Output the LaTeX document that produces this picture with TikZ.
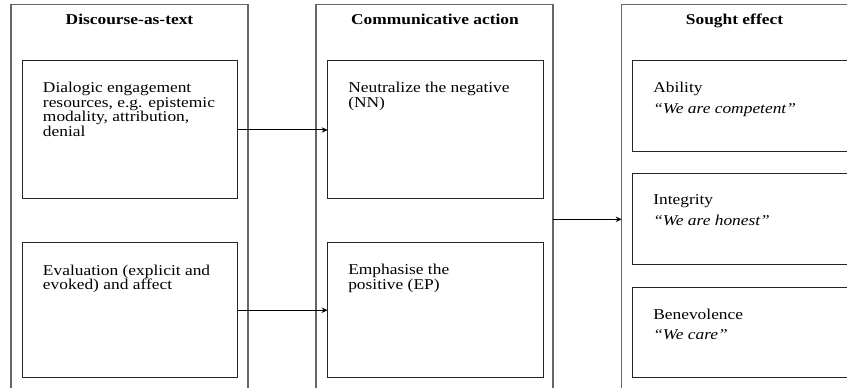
\documentclass[tikz,border=0pt]{standalone}
\usepackage{fontspec}
\setmainfont{Liberation Serif}[FakeStretch=1.16]
\usetikzlibrary{arrows.meta}
\begin{document}
\begin{tikzpicture}[x=0.75pt,y=-0.75pt,
  box/.style={draw, rectangle, inner sep=0pt, outer sep=0pt, anchor=north west},
  outerbox/.style={box, draw=black!60, line width=0.9pt, minimum width=177.75pt, minimum height=322.5pt},
  innerbox/.style={box, draw=black!85, line width=0.75pt, minimum width=161.5pt},
  coltitle/.style={anchor=base, inner sep=0pt, font=\bfseries\fontsize{11.25}{11}\selectfont},
  boxtext/.style={anchor=base west, inner sep=0pt, font=\fontsize{11.25}{11}\selectfont},
  efftext/.style={anchor=base west, inner sep=0pt, font=\fontsize{11.25}{15.5}\selectfont},
  link/.style={draw=black, line width=0.75pt, -{Stealth[length=4.5pt,width=4pt]}}]
\useasboundingbox (0,0) rectangle (847,388);
\clip (0,0) rectangle (847,388);
% outer columns
\node[outerbox] (o1) at (11,4.3) {};
\node[outerbox] (o2) at (316,4.3) {};
\node[outerbox] (o3) at (621.7,4.3) {};
\node[coltitle] (t1) at (129.5,25) {Discourse-as-text};
\node[coltitle] (t2) at (435,25) {Communicative action};
\node[coltitle] (t3) at (734.5,25) {Sought effect};
% inner boxes
\node[innerbox, minimum height=103.5pt] (a1) at (22.3,61) {};
\node[innerbox, minimum height=101.25pt] (b1) at (22.3,242.7) {};
\node[innerbox, minimum height=103.5pt] (a2) at (327.7,61) {};
\node[innerbox, minimum height=101.25pt] (b2) at (327.7,242.7) {};
\node[innerbox, minimum height=68pt] (a3) at (632.7,61) {};
\node[innerbox, minimum height=68.25pt] (b3) at (632.7,173.3) {};
\node[innerbox, minimum height=67.5pt] (c3) at (632.7,287.7) {};
% texts
\node[boxtext] (x1) at (42.7,92.5) {\parbox[t]{170pt}{\raggedright Dialogic engagement\\resources, e.g. epistemic\\modality, attribution,\\denial}};
\node[boxtext] (y1) at (42.7,275.3) {\parbox[t]{170pt}{\raggedright Evaluation (explicit and\\evoked) and affect}};
\node[boxtext] (x2) at (348,93) {\parbox[t]{170pt}{\raggedright Neutralize the negative\\(NN)}};
\node[boxtext] (y2) at (348,275) {\parbox[t]{170pt}{\raggedright Emphasise the\\positive (EP)}};
\node[efftext] (x3) at (653,93) {\parbox[t]{170pt}{\raggedright Ability\\\textit{“We are competent”}}};
\node[efftext] (y3) at (653,205) {\parbox[t]{170pt}{\raggedright Integrity\\\textit{“We are honest”}}};
\node[efftext] (z3) at (653,319.3) {\parbox[t]{170pt}{\raggedright Benevolence\\\textit{“We care”}}};
% connectors
\draw[link] (a1.east) -- (a2.west);
\draw[link] (b1.east) -- (b2.west);
\draw[link] (o2.east) -- (o3.west);
\end{tikzpicture}
\end{document}
